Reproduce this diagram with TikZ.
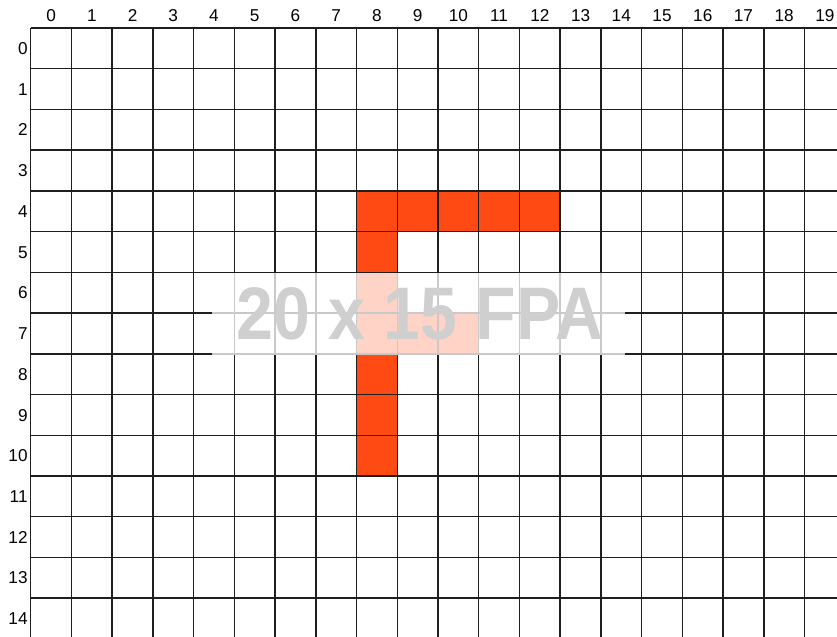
\documentclass[tikz,border=0pt]{standalone}
\usepackage{fontspec}
\setmainfont{Liberation Sans}
\usepackage{graphicx}
\definecolor{pixelfill}{HTML}{FF4A14}
\definecolor{gridline}{HTML}{1E1E1E}
\definecolor{fpagray}{HTML}{CFCFCF}
\tikzset{
  pixel/.style={fill=pixelfill, draw=none},
  gridlines/.style={draw=gridline, line width=1pt},
  veil/.style={fill=white, fill opacity=0.76, draw=none},
  collabel/.style={font=\fontsize{12}{12}\selectfont, inner sep=0pt, anchor=base},
  rowlabel/.style={font=\fontsize{12}{12}\selectfont, inner sep=0pt, anchor=base east},
  fpalabel/.style={font=\fontsize{52}{52}\selectfont\bfseries, text=fpagray, inner sep=0pt, anchor=base}
}

\begin{document}
\begin{tikzpicture}

\useasboundingbox (-0.754,-14.952) rectangle (19.796,0.687);
\clip (-0.754,-14.952) rectangle (19.796,0.687);

% Lit pixels (column/row).
\foreach \c/\r in {8/4,9/4,10/4,11/4,12/4,8/5,8/6,8/7,9/7,10/7,8/8,8/9,8/10} {
  \fill[pixel] (\c,-\r) rectangle ++(1,-1);
}

% Grid of 20 x 15 cells.
\foreach \c in {0,...,20} {
  \draw[gridlines] (\c,0) -- (\c,-15);
}
\foreach \r in {0,...,15} {
  \draw[gridlines] (0,-\r) -- (20,-\r);
}

% Index labels.
\foreach \c in {0,...,19} {
  \node[collabel] (col\c) at (\c+0.5,0.15) {\c};
}
\foreach \r in {0,...,14} {
  \node[rowlabel] (row\r) at (-0.07,-\r-0.65) {\r};
}

% Caption on a faded band.
\fill[veil] (4.45,-6.02) rectangle (14.59,-8.02);
\node[fpalabel] (fpa) at (9.56,-7.643) {\scalebox{0.89}[1]{20 x 15 FPA}};

\end{tikzpicture}
\end{document}
